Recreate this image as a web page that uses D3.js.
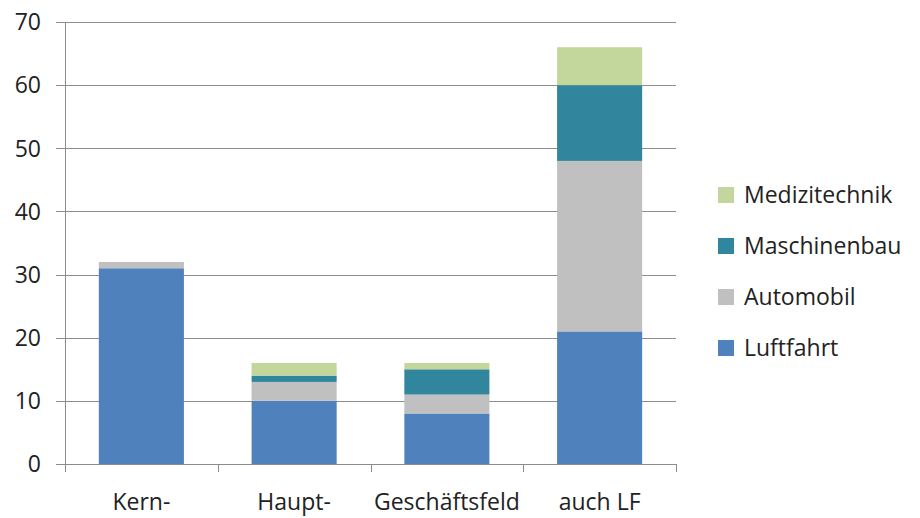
<!DOCTYPE html>
<html>
<head>
<meta charset="utf-8">
<script src="https://cdn.jsdelivr.net/npm/d3@7"></script>
<style>
  body { margin: 0; background: #fff; }
  svg text { font-family: "Open Sans", Lato, sans-serif; fill: #222; }
</style>
</head>
<body>
<svg id="chart" width="920" height="518"></svg>
<script>
// Categories along the x axis (first line of each label)
const categories = ["Kern-", "Haupt-", "Geschäftsfeld", "auch LF"];
// Stacked series, bottom to top
const seriesNames = ["Luftfahrt", "Automobil", "Maschinenbau", "Medizitechnik"];
const luftfahrt     = [31, 10, 8, 21];
const automobil     = [1, 3, 3, 27];
const maschinenbau  = [0, 1, 4, 12];
const medizitechnik = [0, 2, 1, 6];
const seriesColors = ["#4F81BD", "#C0C0C0", "#31859C", "#C3D69B"];
const yTicks = [0, 10, 20, 30, 40, 50, 60, 70];

const svg = d3.select("#chart");
const margin = { left: 65, right: 244, top: 22, bottom: 54 };
const W = 920, H = 518;
const fontSize = 23;

const rows = categories.map((c, i) => ({
  cat: c,
  Luftfahrt: luftfahrt[i],
  Automobil: automobil[i],
  Maschinenbau: maschinenbau[i],
  Medizitechnik: medizitechnik[i]
}));

const x = d3.scaleBand()
  .domain(categories)
  .range([margin.left, W - margin.right])
  .paddingInner(0.443)
  .paddingOuter(0.2215);

const y = d3.scaleLinear()
  .domain([0, 70])
  .range([H - margin.bottom, margin.top]);

const color = d3.scaleOrdinal().domain(seriesNames).range(seriesColors);

// Horizontal gridlines
svg.append("g")
  .selectAll("line")
  .data(yTicks)
  .join("line")
  .attr("x1", margin.left - 9)
  .attr("x2", W - margin.right)
  .attr("y1", d => Math.round(y(d)) + 0.5)
  .attr("y2", d => Math.round(y(d)) + 0.5)
  .attr("stroke", "#8c8c8c")
  .attr("stroke-width", 1);

// Y axis labels
svg.append("g")
  .selectAll("text")
  .data(yTicks)
  .join("text")
  .attr("x", 41)
  .attr("y", d => y(d))
  .attr("dy", "0.36em")
  .attr("text-anchor", "end")
  .attr("font-size", fontSize)
  .text(d => d);

// Y axis line
svg.append("line")
  .attr("x1", margin.left + 0.5).attr("x2", margin.left + 0.5)
  .attr("y1", y(70)).attr("y2", y(0) + 8)
  .attr("stroke", "#8c8c8c");

// Category boundary ticks
const step = x.step();
const bounds = d3.range(categories.length + 1).map(i => margin.left + i * step);
svg.append("g")
  .selectAll("line")
  .data(bounds.slice(1))
  .join("line")
  .attr("x1", d => Math.round(d) + 0.5)
  .attr("x2", d => Math.round(d) + 0.5)
  .attr("y1", y(0))
  .attr("y2", y(0) + 8)
  .attr("stroke", "#8c8c8c");

// Stacked bars
const stack = d3.stack().keys(seriesNames)(rows);
svg.append("g")
  .selectAll("g")
  .data(stack)
  .join("g")
  .attr("fill", d => color(d.key))
  .selectAll("rect")
  .data(d => d.filter(s => s[1] - s[0] > 0))
  .join("rect")
  .attr("x", d => x(d.data.cat))
  .attr("width", x.bandwidth())
  .attr("y", d => y(d[1]))
  .attr("height", d => y(d[0]) - y(d[1]));

// Category labels
svg.append("g")
  .selectAll("text")
  .data(categories)
  .join("text")
  .attr("x", d => x(d) + x.bandwidth() / 2)
  .attr("y", 510)
  .attr("text-anchor", "middle")
  .attr("font-size", fontSize)
  .text(d => d);

// Legend, top item is the top of the stack
const legendItems = seriesNames.slice().reverse();
const lg = svg.append("g")
  .selectAll("g")
  .data(legendItems)
  .join("g")
  .attr("transform", (d, i) => `translate(718, ${195 + i * 51})`);
lg.append("rect")
  .attr("x", 0).attr("y", -8)
  .attr("width", 16).attr("height", 16)
  .attr("fill", d => color(d));
lg.append("text")
  .attr("x", 26)
  .attr("y", 0)
  .attr("dy", "0.36em")
  .attr("font-size", fontSize)
  .text(d => d);
</script>
</body>
</html>
